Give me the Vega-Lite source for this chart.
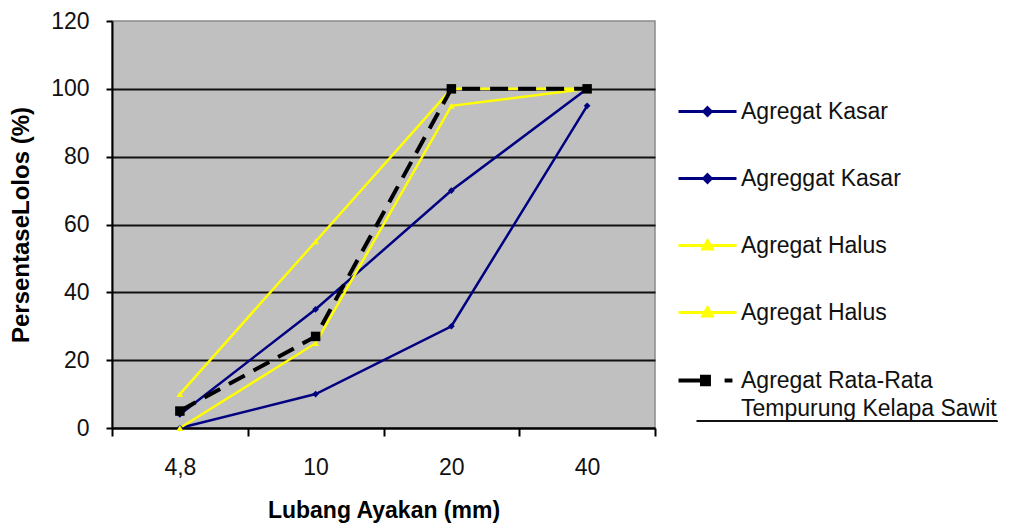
{
  "$schema": "https://vega.github.io/schema/vega-lite/v6.json",
  "width": 543,
  "height": 407,
  "autosize": {"type": "none"},
  "padding": {"left": 112, "top": 21, "right": 357, "bottom": 101},
  "background": "white",
  "data": {
    "values": [
      {"ayakan": "4,8", "lolos": 4, "seri": "s1"},
      {"ayakan": "10", "lolos": 35, "seri": "s1"},
      {"ayakan": "20", "lolos": 70, "seri": "s1"},
      {"ayakan": "40", "lolos": 100, "seri": "s1"},
      {"ayakan": "4,8", "lolos": 0, "seri": "s2"},
      {"ayakan": "10", "lolos": 10, "seri": "s2"},
      {"ayakan": "20", "lolos": 30, "seri": "s2"},
      {"ayakan": "40", "lolos": 95, "seri": "s2"},
      {"ayakan": "4,8", "lolos": 10, "seri": "s3"},
      {"ayakan": "10", "lolos": 55, "seri": "s3"},
      {"ayakan": "20", "lolos": 100, "seri": "s3"},
      {"ayakan": "40", "lolos": 100, "seri": "s3"},
      {"ayakan": "4,8", "lolos": 0, "seri": "s4"},
      {"ayakan": "10", "lolos": 25, "seri": "s4"},
      {"ayakan": "20", "lolos": 95, "seri": "s4"},
      {"ayakan": "40", "lolos": 100, "seri": "s4"},
      {"ayakan": "4,8", "lolos": 5, "seri": "s5"},
      {"ayakan": "10", "lolos": 27, "seri": "s5"},
      {"ayakan": "20", "lolos": 100, "seri": "s5"},
      {"ayakan": "40", "lolos": 100, "seri": "s5"}
    ]
  },
  "encoding": {
    "x": {
      "field": "ayakan",
      "type": "ordinal",
      "sort": ["4,8", "10", "20", "40"],
      "title": "Lubang Ayakan (mm)",
      "scale": {"type": "band", "paddingInner": 0, "paddingOuter": 0},
      "axis": {
        "labelAngle": 0,
        "tickBand": "extent",
        "tickSize": 8,
        "tickWidth": 2,
        "tickColor": "black",
        "domainColor": "black",
        "domainWidth": 2,
        "labelFont": "Liberation Sans",
        "labelFontSize": 23,
        "labelColor": "#111111",
        "labelPadding": 20,
        "titleFont": "Liberation Sans",
        "titleFontSize": 23,
        "titleFontWeight": "bold",
        "titleColor": "black",
        "titlePadding": 20,
        "grid": false
      }
    },
    "y": {
      "field": "lolos",
      "type": "quantitative",
      "title": "PersentaseLolos (%)",
      "scale": {"domain": [0, 120], "nice": false},
      "axis": {
        "values": [0, 20, 40, 60, 80, 100, 120],
        "tickSize": 6,
        "tickWidth": 2,
        "tickColor": "black",
        "domainColor": "black",
        "domainWidth": 2,
        "labelFont": "Liberation Sans",
        "labelFontSize": 23,
        "labelColor": "#111111",
        "labelPadding": 17,
        "titleFont": "Liberation Sans",
        "titleFontSize": 24,
        "titleFontWeight": "bold",
        "titleColor": "black",
        "titlePadding": 17,
        "grid": true,
        "gridColor": {"condition": {"test": "datum.value >= 120", "value": "transparent"}, "value": "#111111"},
        "gridWidth": 2
      }
    },
    "color": {
      "field": "seri",
      "type": "nominal",
      "scale": {
        "domain": ["s1", "s2", "s3", "s4", "s5"],
        "range": ["#000080", "#000080", "#FFFF00", "#FFFF00", "#000000"]
      },
      "legend": {
        "orient": "none",
        "legendX": 584,
        "legendY": 79,
        "title": null,
        "padding": 0,
        "labelExpr": "datum.value == 's1' ? 'Agregat Kasar' : datum.value == 's2' ? 'Agreggat Kasar' : datum.value == 's5' ? ['Agregat Rata-Rata', 'Tempurung Kelapa Sawit'] : 'Agregat Halus'",
        "symbolSize": 3364,
        "symbolStrokeWidth": 3,
        "labelFont": "Liberation Sans",
        "labelFontSize": 23,
        "labelColor": "#111111",
        "labelOffset": 22,
        "labelLimit": 500,
        "rowPadding": 43,
        "strokeColor": "#111111",
        "encode": {
          "symbols": {
            "update": {
              "shape": {"signal": "datum.value == 's5' ? 'M-1,0H-0.07M-0.19,-0.13H0.05V0.13H-0.19ZM0.59,0H0.86' : (datum.value == 's1' || datum.value == 's2') ? 'M-1,0H1M0,-0.13L0.13,0L0,0.13L-0.13,0Z' : 'M-1,0H1M0,-0.16L0.16,0.12L-0.16,0.12Z'"},
              "fill": {"scale": "color", "field": "value"},
              "strokeWidth": {"signal": "datum.value == 's5' ? 4 : 3"}
            }
          },
          "labels": {
            "update": {
              "lineHeight": {"value": 28}
            }
          }
        }
      }
    }
  },
  "layer": [
    {
      "transform": [{"filter": "datum.seri != 's5'"}],
      "mark": {"type": "line", "strokeWidth": 2.5}
    },
    {
      "transform": [{"filter": "datum.seri != 's5'"}],
      "mark": {"type": "point", "filled": true, "opacity": 1, "strokeWidth": 0},
      "encoding": {
        "shape": {
          "field": "seri",
          "type": "nominal",
          "scale": {"domain": ["s1", "s2", "s3", "s4"], "range": ["diamond", "diamond", "triangle-up", "triangle-up"]},
          "legend": null
        },
        "size": {"value": 45}
      }
    },
    {
      "transform": [{"filter": "datum.seri == 's5'"}],
      "mark": {"type": "line", "strokeWidth": 4, "strokeDash": [18, 10]}
    },
    {
      "transform": [{"filter": "datum.seri == 's5'"}],
      "mark": {"type": "square", "filled": true, "opacity": 1, "size": 90}
    }
  ],
  "config": {
    "view": {"fill": "#C0C0C0", "stroke": "#8a8a8a", "strokeWidth": 1.5},
    "legend": {"strokeWidth": 2, "strokeDash": [0.01, 621.5, 301, 400]}
  }
}
